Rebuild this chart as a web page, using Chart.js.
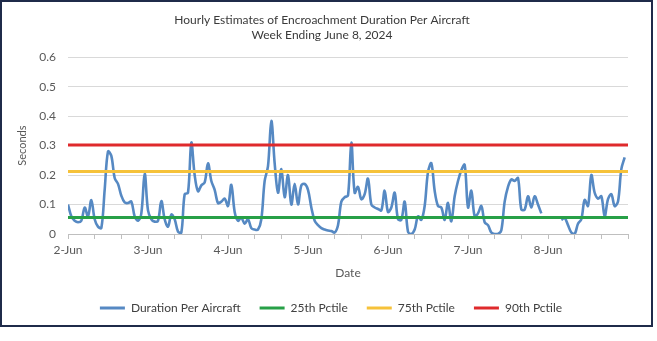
<!DOCTYPE html>
<html>
<head>
<meta charset="utf-8">
<script src="https://cdn.jsdelivr.net/npm/chart.js@4.4.1/dist/chart.umd.min.js"></script>
<style>
  html, body { margin: 0; padding: 0; background: #fff; }
  #frame {
    position: absolute; left: 0; top: 0;
    width: 649px; height: 323px;
    border: 2px solid #1f2b4a;
    background: #fff;
  }
  #frame canvas { display: block; }
</style>
</head>
<body>
<div id="frame"><canvas id="chart" width="649" height="323"></canvas></div>
<script>
// Hourly values, 2-Jun 00:00 to 8-Jun 23:00 (null = no data)
const durationPerAircraft = [
  0.10, 0.06, 0.045, 0.04, 0.045, 0.09, 0.06, 0.115, 0.05, 0.025, 0.02, 0.15,
  0.28, 0.265, 0.19, 0.17, 0.13, 0.107, 0.105, 0.11, 0.06, 0.045, 0.07, 0.205,
  0.08, 0.05, 0.042, 0.045, 0.112, 0.05, 0.025, 0.066, 0.05, 0.008, 0.005, 0.135,
  0.14, 0.31, 0.20, 0.145, 0.165, 0.175, 0.24, 0.18, 0.15, 0.105, 0.11, 0.12,
  0.095, 0.167, 0.075, 0.045, 0.055, 0.035, 0.05, 0.02, 0.015, 0.015, 0.05, 0.18,
  0.23, 0.384, 0.24, 0.14, 0.22, 0.125, 0.20, 0.10, 0.17, 0.10, 0.165, 0.17,
  0.15, 0.09, 0.045, 0.03, 0.02, 0.015, 0.012, 0.01, 0.005, 0.03, 0.11, 0.125,
  0.13, 0.31, 0.14, 0.16, 0.118, 0.135, 0.188, 0.10, 0.09, 0.085, 0.08, 0.147,
  0.075, 0.09, 0.14, 0.05, 0.048, 0.11, 0.008, 0.0, 0.015, 0.06, 0.048, 0.095,
  0.21, 0.24, 0.147, 0.095, 0.09, 0.048, 0.106, 0.043, 0.128, 0.18, 0.216, 0.235,
  0.09, 0.147, 0.06, 0.07, 0.095, 0.04, 0.03, 0.005, 0.0, 0.0, 0.013, 0.11,
  0.16, 0.185, 0.18, 0.19, 0.083, 0.083, 0.128, 0.09, 0.128, 0.10, 0.07, null,
  null, null, null, null, 0.048, 0.054, 0.03, 0.005, 0.0, 0.035, 0.05, 0.116,
  0.095, 0.20, 0.14, 0.12, 0.128, 0.06, 0.118, 0.135, 0.095, 0.11, 0.22, 0.26
];

const pctile25 = 0.056;
const pctile75 = 0.212;
const pctile90 = 0.302;

const dayLabels = ['2-Jun', '3-Jun', '4-Jun', '5-Jun', '6-Jun', '7-Jun', '8-Jun'];
const yTickLabels = ['0', '0.1', '0.2', '0.3', '0.4', '0.5', '0.6'];

const hoursPerDay = 24;
const axisEnd = dayLabels.length * hoursPerDay;

const fontFamily = 'Lato, "Open Sans", sans-serif';

function flatLine(value) {
  return [{ x: 0, y: value }, { x: axisEnd, y: value }];
}

// nudge the legend a little to the right, like the Excel original
const legendShift = {
  id: 'legendShift',
  afterLayout(chart) {
    chart.legend.left += 9;
    chart.legend.right += 9;
  }
};

const ctx = document.getElementById('chart').getContext('2d');
new Chart(ctx, {
  type: 'line',
  data: {
    datasets: [
      {
        label: 'Duration Per Aircraft',
        data: durationPerAircraft.map((v, i) => ({ x: i, y: v })),
        borderColor: '#5689c3',
        backgroundColor: '#5689c3',
        borderWidth: 2.6,
        tension: 0.35,
        pointRadius: 0,
        spanGaps: false,
        order: 2
      },
      {
        label: '25th Pctile',
        data: flatLine(pctile25),
        borderColor: '#27a047',
        backgroundColor: '#27a047',
        borderWidth: 3,
        pointRadius: 0,
        order: 1
      },
      {
        label: '75th Pctile',
        data: flatLine(pctile75),
        borderColor: '#f6c23a',
        backgroundColor: '#f6c23a',
        borderWidth: 3,
        pointRadius: 0,
        order: 1
      },
      {
        label: '90th Pctile',
        data: flatLine(pctile90),
        borderColor: '#df2a2c',
        backgroundColor: '#df2a2c',
        borderWidth: 3,
        pointRadius: 0,
        order: 1
      }
    ]
  },
  options: {
    responsive: false,
    animation: false,
    layout: { padding: { left: 14, right: 23, top: 4, bottom: 1 } },
    plugins: {
      title: {
        display: true,
        text: ['Hourly Estimates of Encroachment Duration Per Aircraft', 'Week Ending June 8, 2024'],
        color: '#3a3a3a',
        font: { family: fontFamily, size: 12, weight: 'normal', lineHeight: 1.3 },
        padding: { top: 6, bottom: 14 }
      },
      legend: {
        position: 'bottom',
        labels: {
          color: '#404040',
          font: { family: fontFamily, size: 12 },
          boxWidth: 25,
          boxHeight: 3,
          padding: 19,
          sort: (a, b) => a.datasetIndex - b.datasetIndex,
          generateLabels(chart) {
            const items = Chart.defaults.plugins.legend.labels.generateLabels(chart);
            items.forEach(it => { it.lineWidth = 0; it.fillStyle = it.strokeStyle; });
            return items;
          }
        }
      },
      tooltip: { enabled: false }
    },
    scales: {
      x: {
        type: 'linear',
        min: 0,
        max: axisEnd,
        afterFit(scale) { scale.height = 49; },
        ticks: {
          stepSize: 8,
          autoSkip: false,
          maxRotation: 0,
          padding: 4,
          color: '#595959',
          font: { family: fontFamily, size: 12 },
          callback(value) {
            if (value % hoursPerDay !== 0) return '';
            return dayLabels[value / hoursPerDay] || '';
          }
        },
        grid: {
          drawOnChartArea: false,
          drawTicks: true,
          tickLength: 5,
          color: '#bfbfbf'
        },
        border: { color: '#bfbfbf' },
        title: {
          display: true,
          text: 'Date',
          color: '#595959',
          font: { family: fontFamily, size: 12 },
          padding: { top: 4, bottom: 3 }
        }
      },
      y: {
        min: 0,
        max: 0.6,
        afterFit(scale) { scale.width = 52; },
        ticks: {
          stepSize: 0.1,
          padding: 12,
          color: '#595959',
          font: { family: fontFamily, size: 12 },
          callback(value) {
            return yTickLabels[Math.round(value * 10)];
          }
        },
        grid: { color: '#d9d9d9', drawTicks: false },
        border: { display: false },
        title: {
          display: true,
          text: 'Seconds',
          color: '#595959',
          font: { family: fontFamily, size: 11 },
          padding: { top: 0, bottom: 0 }
        }
      }
    }
  },
  plugins: [legendShift]
});
</script>
</body>
</html>
